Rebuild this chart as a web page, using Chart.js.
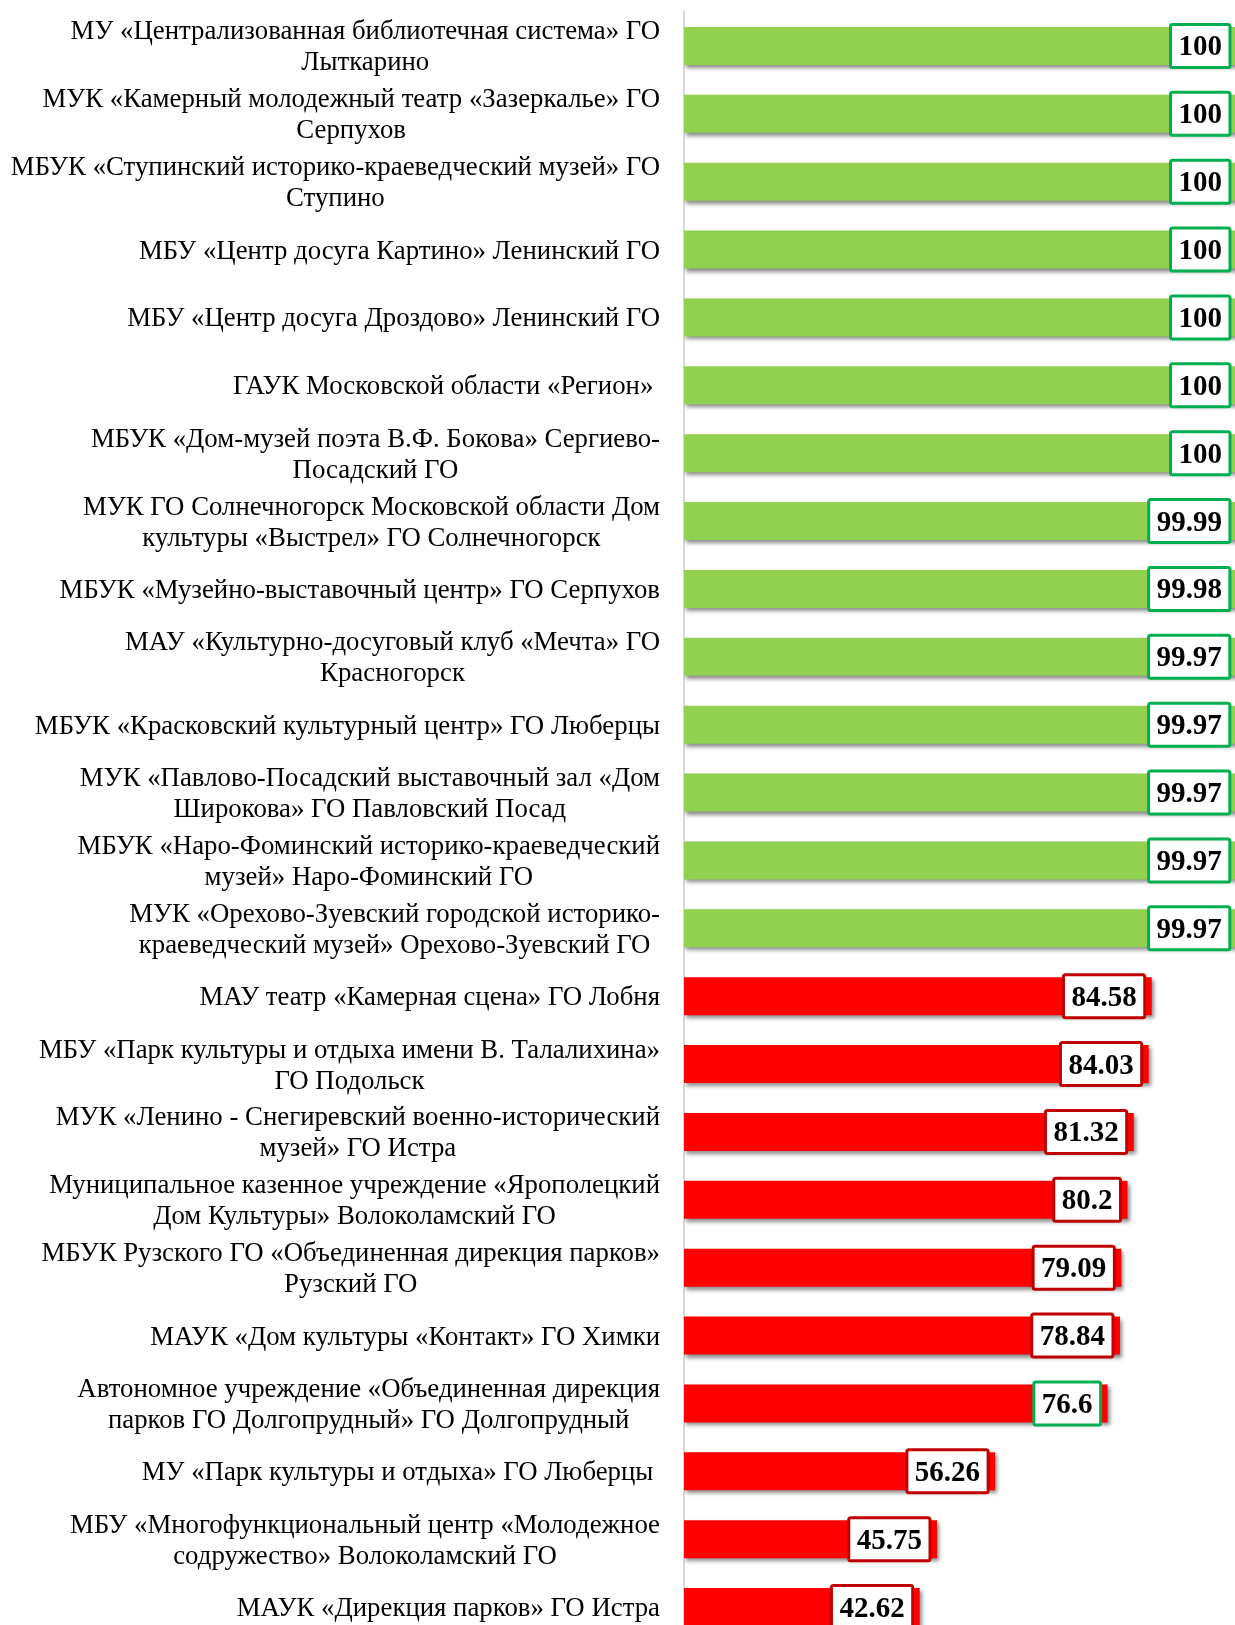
<!DOCTYPE html>
<html>
<head>
<meta charset="utf-8">
<script src="https://cdn.jsdelivr.net/npm/chart.js@4/dist/chart.umd.min.js"></script>
<style>
  html, body { margin: 0; padding: 0; background: #ffffff; overflow: hidden; }
  canvas { display: block; }
</style>
</head>
<body>
<canvas id="c" width="1240" height="1641"></canvas>
<script>
const categories = [
  ["МУ «Централизованная библиотечная система» ГО", "Лыткарино"],
  ["МУК «Камерный молодежный театр «Зазеркалье» ГО", "Серпухов"],
  ["МБУК «Ступинский историко-краеведческий музей» ГО", "Ступино"],
  ["МБУ «Центр досуга Картино» Ленинский ГО"],
  ["МБУ «Центр досуга Дроздово» Ленинский ГО"],
  ["ГАУК Московской области «Регион» "],
  ["МБУК «Дом-музей поэта В.Ф. Бокова» Сергиево-", "Посадский ГО"],
  ["МУК ГО Солнечногорск Московской области Дом", "культуры «Выстрел» ГО Солнечногорск"],
  ["МБУК «Музейно-выставочный центр» ГО Серпухов"],
  ["МАУ «Культурно-досуговый клуб «Мечта» ГО", "Красногорск"],
  ["МБУК «Красковский культурный центр» ГО Люберцы"],
  ["МУК «Павлово-Посадский выставочный зал «Дом", "Широкова» ГО Павловский Посад"],
  ["МБУК «Наро-Фоминский историко-краеведческий", "музей» Наро-Фоминский ГО"],
  ["МУК «Орехово-Зуевский городской историко-", "краеведческий музей» Орехово-Зуевский ГО"],
  ["МАУ театр «Камерная сцена» ГО Лобня"],
  ["МБУ «Парк культуры и отдыха имени В. Талалихина»", "ГО Подольск"],
  ["МУК «Ленино - Снегиревский военно-исторический", "музей» ГО Истра"],
  ["Муниципальное казенное учреждение «Ярополецкий", "Дом Культуры» Волоколамский ГО"],
  ["МБУК Рузского ГО «Объединенная дирекция парков»", "Рузский ГО"],
  ["МАУК «Дом культуры «Контакт» ГО Химки"],
  ["Автономное учреждение «Объединенная дирекция", "парков ГО Долгопрудный» ГО Долгопрудный"],
  ["МУ «Парк культуры и отдыха» ГО Люберцы "],
  ["МБУ «Многофункциональный центр «Молодежное", "содружество» Волоколамский ГО"],
  ["МАУК «Дирекция парков» ГО Истра"]
];

const values = [
  100, 100, 100, 100, 100, 100, 100,
  99.99, 99.98, 99.97, 99.97, 99.97, 99.97, 99.97,
  84.58, 84.03, 81.32, 80.2, 79.09, 78.84, 76.6,
  56.26, 45.75, 42.62
];

// bar group: "g" = green bar, "r" = red bar
const barGroup = [
  "g","g","g","g","g","g","g","g","g","g","g","g","g","g",
  "r","r","r","r","r","r","r","r","r","r"
];

// label box outline group: "g" = green outline, "r" = dark red outline
const boxGroup = [
  "g","g","g","g","g","g","g","g","g","g","g","g","g","g",
  "r","r","r","r","r","r","g","r","r","r"
];

const valueLabels = values.map(v => String(v));

const BAR_COLORS = { g: "#92d050", r: "#ff0000" };
const BOX_COLORS = { g: "#00b050", r: "#c00000" };

const shadowPlugin = {
  id: "barShadow",
  beforeDatasetDraw(chart) {
    const ctx = chart.ctx;
    ctx.save();
    ctx.shadowColor = "rgba(0,0,0,0.45)";
    ctx.shadowBlur = 4;
    ctx.shadowOffsetX = 2;
    ctx.shadowOffsetY = 3;
  },
  afterDatasetDraw(chart) {
    chart.ctx.restore();
  }
};

const valueLabelPlugin = {
  id: "valueLabels",
  afterDatasetsDraw(chart) {
    const ctx = chart.ctx;
    const meta = chart.getDatasetMeta(0);
    ctx.save();
    ctx.font = "bold 29px 'Liberation Serif', 'Times New Roman', serif";
    ctx.textAlign = "center";
    ctx.textBaseline = "middle";
    meta.data.forEach((bar, i) => {
      const txt = valueLabels[i];
      const tw = ctx.measureText(txt).width;
      const w = tw + 16;
      const h = 43;
      const right = bar.x - 7;
      const left = right - w;
      const top = bar.y - h / 2;
      ctx.fillStyle = "#ffffff";
      ctx.strokeStyle = BOX_COLORS[boxGroup[i]];
      ctx.lineWidth = 3;
      ctx.beginPath();
      if (ctx.roundRect) ctx.roundRect(left, top, w, h, 2); else ctx.rect(left, top, w, h);
      ctx.fill();
      ctx.stroke();
      ctx.fillStyle = "#000000";
      ctx.fillText(txt, left + w / 2, bar.y + 2);
    });
    ctx.restore();
  }
};

const categoryLabelPlugin = {
  id: "categoryLabels",
  afterDraw(chart) {
    const ctx = chart.ctx;
    const yScale = chart.scales.y;
    const blockRight = 660;
    const lineH = 31;
    ctx.save();
    ctx.font = "26.8px 'Liberation Serif', 'Times New Roman', serif";
    ctx.fillStyle = "#000000";
    ctx.textAlign = "center";
    ctx.textBaseline = "middle";
    categories.forEach((lines, i) => {
      const yc = yScale.getPixelForValue(i) + 2;
      const maxW = Math.max(...lines.map(l => ctx.measureText(l).width));
      const cx = blockRight - maxW / 2;
      const y0 = yc - (lines.length - 1) * lineH / 2;
      lines.forEach((l, k) => {
        ctx.fillText(l, cx, y0 + k * lineH);
      });
    });
    ctx.restore();
  }
};

const bgPlugin = {
  id: "bg",
  beforeDraw(chart) {
    const ctx = chart.ctx;
    ctx.save();
    ctx.fillStyle = "#ffffff";
    ctx.fillRect(0, 0, chart.width, chart.height);
    ctx.restore();
  }
};

new Chart(document.getElementById("c"), {
  type: "bar",
  data: {
    labels: categories,
    datasets: [{
      data: values,
      backgroundColor: barGroup.map(g => BAR_COLORS[g]),
      borderWidth: 0,
      categoryPercentage: 1.0,
      barPercentage: 0.56
    }]
  },
  options: {
    indexAxis: "y",
    responsive: false,
    animation: false,
    layout: { padding: { top: 12, right: 3, bottom: 0, left: 0 } },
    plugins: {
      legend: { display: false },
      tooltip: { enabled: false }
    },
    scales: {
      x: {
        display: false,
        min: 0,
        max: 100
      },
      y: {
        ticks: { display: false },
        grid: { display: false, drawTicks: false },
        border: { display: true, color: "#d9d9d9", width: 2 },
        afterFit(scale) { scale.width = 684; }
      }
    }
  },
  plugins: [bgPlugin, shadowPlugin, valueLabelPlugin, categoryLabelPlugin]
});
</script>
</body>
</html>
